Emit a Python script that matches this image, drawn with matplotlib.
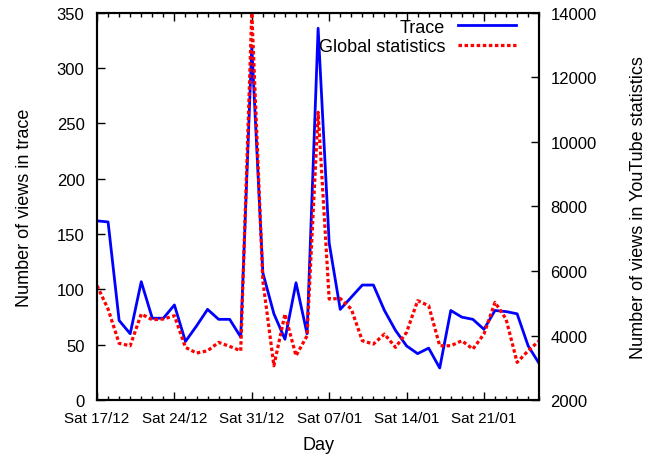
import matplotlib
matplotlib.use('Agg')
import matplotlib.pyplot as plt

plt.rcParams['font.family'] = ['Liberation Sans', 'DejaVu Sans']

# days since Sat 17/12
days = list(range(41))

trace = [162, 161, 72, 60, 107, 74, 74, 86, 53, 67,
         82, 73, 73, 57, 320, 115, 78, 55, 106, 60,
         336, 142, 82, 93, 104, 104, 81, 63, 49, 42,
         47, 29, 81, 75, 73, 64, 81, 80, 78, 49,
         33]

global_stats = [5545, 4822, 3758, 3684, 4667, 4490, 4512, 4615, 3634, 3457,
                3529, 3789, 3665, 3529, 14000, 5700, 3064, 4667, 3374, 3994,
                10920, 5132, 5150, 4822, 3839, 3737, 4047, 3634, 4098, 5080,
                4925, 3684, 3684, 3839, 3582, 4047, 5029, 4512, 3169, 3529,
                3839]

week_ticks = [0, 7, 14, 21, 28, 35]
week_labels = ['Sat 17/12', 'Sat 24/12', 'Sat 31/12', 'Sat 07/01',
               'Sat 14/01', 'Sat 21/01']


def main():
    fig = plt.figure(figsize=(6.6, 4.6), dpi=100)
    ax = fig.add_axes([0.147, 0.128, 0.670, 0.842])
    ax2 = ax.twinx()

    l1, = ax.plot(days, trace, '-', color='#0000FF', linewidth=2.0,
                  label='Trace')
    l2, = ax2.plot(days, global_stats, color='#FF0000', linewidth=2.3,
                   linestyle=(0, (1.1, 0.8)), label='Global statistics')

    ax.set_xlim(0, 40)
    ax.set_ylim(0, 350)
    ax2.set_ylim(2000, 14000)
    ax.set_yticks(range(0, 351, 50))
    ax2.set_yticks(range(2000, 14001, 2000))

    ax.set_xticks(week_ticks)
    ax.set_xticklabels(week_labels, fontsize=11)
    ax.set_xticks(days, minor=True)

    ax.tick_params(axis='x', which='major', direction='in', length=6,
                   width=1, top=True, pad=8)
    ax.tick_params(axis='x', which='minor', direction='in', length=3,
                   width=1, top=True)
    ax.tick_params(axis='y', direction='in', length=6, width=1,
                   labelsize=12, pad=9)
    ax2.tick_params(axis='y', direction='in', length=6, width=1,
                    labelsize=12, pad=8)

    for a in (ax, ax2):
        for sp in a.spines.values():
            sp.set_linewidth(1.5)

    ax.set_xlabel('Day', fontsize=13, labelpad=8)
    ax.set_ylabel('Number of views in trace', fontsize=13, labelpad=17)
    ax2.set_ylabel('Number of views in YouTube statistics', fontsize=13,
                   labelpad=24)

    ax2.legend([l1, l2], ['Trace', 'Global statistics'], loc='upper right',
               bbox_to_anchor=(0.947, 0.985),
               frameon=False, markerfirst=False, fontsize=13,
               handlelength=3.2, handletextpad=0.7, labelspacing=0.15,
               borderaxespad=0.0, borderpad=0.0)

    fig.savefig('out.png', dpi=100)
    plt.close(fig)


if __name__ == "__main__":
    main()
